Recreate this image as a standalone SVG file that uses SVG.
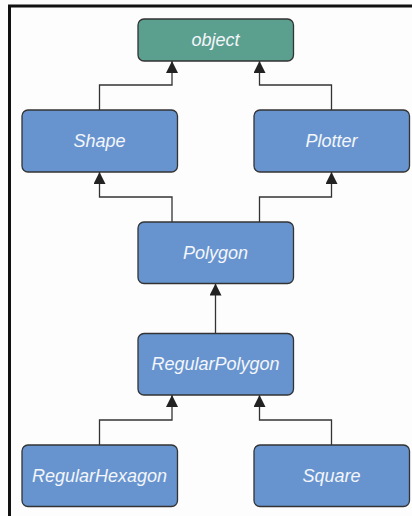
<svg xmlns="http://www.w3.org/2000/svg" width="412" height="516" viewBox="0 0 412 516">
<defs>
<style>
.node rect{stroke:#333;stroke-width:1.3}
.blue rect{fill:#6794cf}
.teal rect{fill:#5b9f8f}
.node text{font-family:"Liberation Sans",Arial,sans-serif;font-style:italic;font-size:18px;fill:#f4f6fa;text-anchor:middle}
.conn path{fill:none;stroke:#333;stroke-width:1.3}
</style>
<marker id="arr" viewBox="0 0 12 12" markerWidth="12" markerHeight="12" refX="12" refY="6" orient="auto" markerUnits="userSpaceOnUse">
<path d="M0,0 L12,6 L0,12 Z" fill="#222"/>
</marker>
</defs>
<rect x="0" y="0" width="412" height="516" fill="#fdfdfd"/>
<path d="M9.5,516 V6 H412" fill="none" stroke="#111" stroke-width="3"/>
<g id="connectors" class="conn">
<path d="M99.5,110 V85 H172 V61" marker-end="url(#arr)"/>
<path d="M331.5,110 V85 H259.5 V61" marker-end="url(#arr)"/>
<path d="M172,222 V197 H99.5 V172" marker-end="url(#arr)"/>
<path d="M259.5,222 V197 H331.5 V172" marker-end="url(#arr)"/>
<path d="M215.5,333 V283.5" marker-end="url(#arr)"/>
<path d="M99.5,445 V420 H172 V395" marker-end="url(#arr)"/>
<path d="M331.5,445 V420 H259.5 V395" marker-end="url(#arr)"/>
</g>
<g id="object" class="node teal">
<rect x="138" y="19" width="155.5" height="42" rx="6"/>
<text x="215.5" y="46">object</text>
</g>
<g id="Shape" class="node blue">
<rect x="22" y="110" width="155.5" height="62" rx="6"/>
<text x="99.5" y="147">Shape</text>
</g>
<g id="Plotter" class="node blue">
<rect x="254" y="110" width="155.5" height="62" rx="6"/>
<text x="331.5" y="147">Plotter</text>
</g>
<g id="Polygon" class="node blue">
<rect x="138" y="222" width="155.5" height="61.5" rx="6"/>
<text x="215.5" y="258.5">Polygon</text>
</g>
<g id="RegularPolygon" class="node blue">
<rect x="138" y="333.5" width="155.5" height="61.5" rx="6"/>
<text x="215.5" y="370">RegularPolygon</text>
</g>
<g id="RegularHexagon" class="node blue">
<rect x="22" y="445" width="155.5" height="61.5" rx="6"/>
<text x="99.5" y="481.5">RegularHexagon</text>
</g>
<g id="Square" class="node blue">
<rect x="254" y="445" width="155.5" height="61.5" rx="6"/>
<text x="331.5" y="481.5">Square</text>
</g>
</svg>
